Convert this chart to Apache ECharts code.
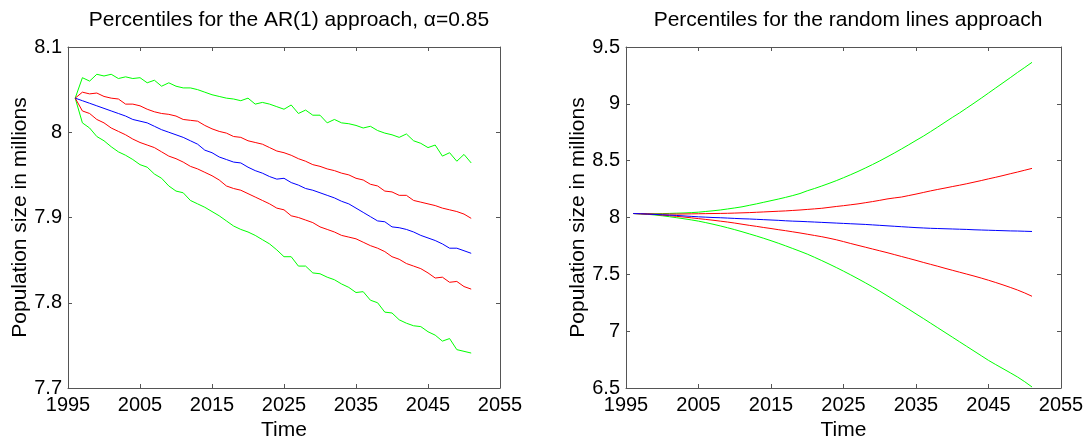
<!DOCTYPE html>
<html>
<head>
<meta charset="utf-8">
<script src="https://cdn.jsdelivr.net/npm/echarts@6/dist/echarts.min.js"></script>
<style>
html,body{margin:0;padding:0;background:#fff;}
#chart{width:1088px;height:437px;}
</style>
</head>
<body>
<div id="chart"></div>
<script>
// Years (x values), shared by both panels
var years = [];
for (var y = 1996; y <= 2051; y++) years.push(y);

// Left panel: AR(1) approach, alpha = 0.85
var arUpperGreen = [8.040,8.064,8.060,8.068,8.066,8.068,8.063,8.065,8.063,8.064,8.058,8.061,8.054,8.058,8.054,8.052,8.052,8.050,8.047,8.044,8.042,8.040,8.039,8.037,8.040,8.033,8.035,8.033,8.030,8.027,8.032,8.022,8.026,8.020,8.020,8.011,8.015,8.011,8.010,8.008,8.005,8.007,8.002,7.999,7.997,7.994,7.998,7.990,7.987,7.982,7.985,7.972,7.976,7.966,7.974,7.964];
var arUpperRed = [8.040,8.047,8.045,8.046,8.042,8.040,8.039,8.033,8.033,8.031,8.027,8.024,8.022,8.021,8.019,8.015,8.014,8.013,8.008,8.004,8.001,7.999,7.995,7.994,7.990,7.988,7.986,7.982,7.978,7.976,7.973,7.969,7.966,7.962,7.960,7.957,7.955,7.952,7.950,7.946,7.944,7.939,7.937,7.931,7.930,7.926,7.926,7.920,7.918,7.916,7.914,7.911,7.909,7.907,7.904,7.899];
var arMedian = [8.040,8.037,8.034,8.031,8.028,8.025,8.022,8.019,8.015,8.013,8.011,8.007,8.003,8.000,7.997,7.994,7.990,7.986,7.979,7.976,7.971,7.968,7.965,7.964,7.959,7.955,7.952,7.948,7.945,7.946,7.941,7.938,7.934,7.932,7.929,7.926,7.923,7.919,7.916,7.911,7.906,7.901,7.896,7.895,7.889,7.888,7.886,7.883,7.879,7.876,7.873,7.869,7.864,7.864,7.861,7.858];
var arLowerRed = [8.040,8.025,8.022,8.015,8.011,8.005,8.001,7.997,7.992,7.988,7.985,7.982,7.977,7.972,7.969,7.965,7.960,7.957,7.953,7.949,7.944,7.937,7.934,7.932,7.928,7.924,7.920,7.916,7.911,7.909,7.902,7.900,7.897,7.894,7.889,7.886,7.883,7.879,7.877,7.875,7.871,7.867,7.864,7.860,7.854,7.851,7.846,7.843,7.840,7.835,7.829,7.830,7.824,7.825,7.819,7.816];
var arLowerGreen = [8.040,8.011,8.005,7.995,7.990,7.983,7.977,7.973,7.968,7.962,7.959,7.951,7.946,7.937,7.931,7.929,7.920,7.916,7.912,7.907,7.902,7.896,7.890,7.886,7.883,7.879,7.874,7.869,7.862,7.854,7.854,7.843,7.843,7.835,7.834,7.830,7.827,7.822,7.818,7.812,7.813,7.803,7.800,7.789,7.788,7.780,7.776,7.773,7.772,7.766,7.762,7.755,7.758,7.745,7.743,7.741];

// Right panel: random lines approach
var rlUpperGreen = [8.035,8.034,8.033,8.033,8.034,8.036,8.038,8.040,8.043,8.047,8.053,8.059,8.066,8.075,8.084,8.094,8.107,8.120,8.134,8.148,8.162,8.177,8.193,8.211,8.235,8.255,8.277,8.300,8.324,8.350,8.377,8.405,8.435,8.466,8.498,8.532,8.567,8.603,8.640,8.678,8.715,8.755,8.796,8.838,8.880,8.920,8.963,9.006,9.050,9.095,9.140,9.185,9.230,9.276,9.320,9.365];
var rlUpperRed = [8.035,8.033,8.031,8.030,8.030,8.030,8.030,8.031,8.032,8.033,8.034,8.035,8.036,8.037,8.039,8.041,8.043,8.046,8.049,8.052,8.055,8.058,8.062,8.066,8.071,8.076,8.081,8.089,8.097,8.104,8.112,8.120,8.130,8.140,8.151,8.163,8.172,8.180,8.193,8.206,8.220,8.234,8.247,8.259,8.272,8.284,8.297,8.311,8.325,8.340,8.354,8.369,8.385,8.400,8.416,8.432];
var rlMedian = [8.035,8.033,8.030,8.027,8.024,8.021,8.018,8.014,8.010,8.006,8.003,8.000,7.998,7.995,7.992,7.989,7.987,7.984,7.981,7.978,7.975,7.971,7.968,7.966,7.963,7.960,7.957,7.954,7.951,7.948,7.945,7.942,7.939,7.935,7.931,7.927,7.923,7.919,7.915,7.911,7.908,7.905,7.903,7.901,7.899,7.897,7.895,7.892,7.890,7.888,7.886,7.884,7.882,7.881,7.879,7.877];
var rlLowerRed = [8.035,8.033,8.030,8.026,8.021,8.016,8.010,8.004,7.997,7.990,7.983,7.976,7.968,7.960,7.951,7.941,7.931,7.922,7.912,7.903,7.893,7.884,7.874,7.864,7.853,7.842,7.831,7.818,7.804,7.788,7.771,7.755,7.739,7.723,7.707,7.691,7.674,7.657,7.640,7.623,7.605,7.588,7.571,7.553,7.536,7.519,7.502,7.485,7.467,7.448,7.428,7.407,7.385,7.362,7.336,7.307];
var rlLowerGreen = [8.035,8.032,8.028,8.022,8.015,8.007,7.998,7.989,7.979,7.968,7.955,7.941,7.926,7.910,7.893,7.875,7.856,7.837,7.817,7.796,7.774,7.751,7.727,7.703,7.678,7.650,7.621,7.591,7.560,7.528,7.495,7.461,7.426,7.390,7.352,7.313,7.273,7.233,7.193,7.152,7.112,7.071,7.030,6.989,6.948,6.907,6.866,6.825,6.784,6.743,6.706,6.670,6.634,6.597,6.555,6.509];

// Axis ranges / ticks
var xMin = 1995, xMax = 2055, xStep = 10;
var leftYMin = 7.7, leftYMax = 8.1, leftYStep = 0.1;
var rightYMin = 6.5, rightYMax = 9.5, rightYStep = 0.5;

var titles = ['Percentiles for the AR(1) approach, \u03b1=0.85', 'Percentiles for the random lines approach'];
var xName = 'Time';
var yName = 'Population size in millions';

function pairs(vals) {
  return vals.map(function (v, i) { return [years[i], v]; });
}

var FONT = '"Liberation Sans", Arial, sans-serif';
var frameColor = '#555555';
var GREEN = '#00ff00', RED = '#ff0000', BLUE = '#0000ff';

function mkX(gi, pos) {
  var main = pos === 'bottom';
  return {
    type: 'value', gridIndex: gi, position: pos, min: xMin, max: xMax, interval: xStep,
    name: main ? xName : '', nameLocation: 'middle', nameGap: 30,
    nameTextStyle: { fontFamily: FONT, fontSize: 21, color: '#000' },
    axisLine: { show: true, onZero: false, lineStyle: { color: frameColor, width: 1 } },
    axisTick: { show: true, inside: true, length: 4, lineStyle: { color: frameColor } },
    axisLabel: { show: main, margin: 7, fontFamily: FONT, fontSize: 20, color: '#000',
      formatter: function (v) { return String(Math.round(v)); } },
    splitLine: { show: false }
  };
}
function mkY(gi, pos, mn, mx, st) {
  var main = pos === 'left';
  return {
    type: 'value', gridIndex: gi, position: pos, min: mn, max: mx, interval: st,
    name: main ? yName : '', nameLocation: 'middle', nameGap: 37,
    nameTextStyle: { fontFamily: FONT, fontSize: 21, color: '#000' },
    axisLine: { show: true, onZero: false, lineStyle: { color: frameColor, width: 1 } },
    axisTick: { show: true, inside: true, length: 4, lineStyle: { color: frameColor } },
    axisLabel: { show: main, margin: 6, fontFamily: FONT, fontSize: 20, color: '#000',
      formatter: function (v) { return String(Math.round(v * 10) / 10); } },
    splitLine: { show: false }
  };
}
function mkLine(xi, yi, vals, color) {
  return {
    type: 'line', xAxisIndex: xi, yAxisIndex: yi, data: pairs(vals),
    showSymbol: false, symbol: 'none', silent: true,
    lineStyle: { color: color, width: 1 }, itemStyle: { color: color }
  };
}

var chart = echarts.init(document.getElementById('chart'), null, { renderer: 'canvas' });
chart.setOption({
  animation: false,
  backgroundColor: '#fff',
  title: [
    { text: titles[0], left: 284, top: 5, textAlign: 'center',
      textStyle: { fontFamily: FONT, fontSize: 21, fontWeight: 'normal', color: '#000' } },
    { text: titles[1], left: 843, top: 5, textAlign: 'center',
      textStyle: { fontFamily: FONT, fontSize: 21, fontWeight: 'normal', color: '#000' } }
  ],
  grid: [
    { left: 68, right: 588, top: 47, bottom: 49, containLabel: false, outerBoundsMode: 'none' },
    { left: 626, right: 27, top: 47, bottom: 49, containLabel: false, outerBoundsMode: 'none' }
  ],
  xAxis: [mkX(0, 'bottom'), mkX(0, 'top'), mkX(1, 'bottom'), mkX(1, 'top')],
  yAxis: [
    mkY(0, 'left', leftYMin, leftYMax, leftYStep), mkY(0, 'right', leftYMin, leftYMax, leftYStep),
    mkY(1, 'left', rightYMin, rightYMax, rightYStep), mkY(1, 'right', rightYMin, rightYMax, rightYStep)
  ],
  series: [
    mkLine(0, 0, arUpperGreen, GREEN),
    mkLine(0, 0, arLowerGreen, GREEN),
    mkLine(0, 0, arUpperRed, RED),
    mkLine(0, 0, arLowerRed, RED),
    mkLine(0, 0, arMedian, BLUE),
    mkLine(2, 2, rlUpperGreen, GREEN),
    mkLine(2, 2, rlLowerGreen, GREEN),
    mkLine(2, 2, rlUpperRed, RED),
    mkLine(2, 2, rlLowerRed, RED),
    mkLine(2, 2, rlMedian, BLUE)
  ]
});
</script>
</body>
</html>
